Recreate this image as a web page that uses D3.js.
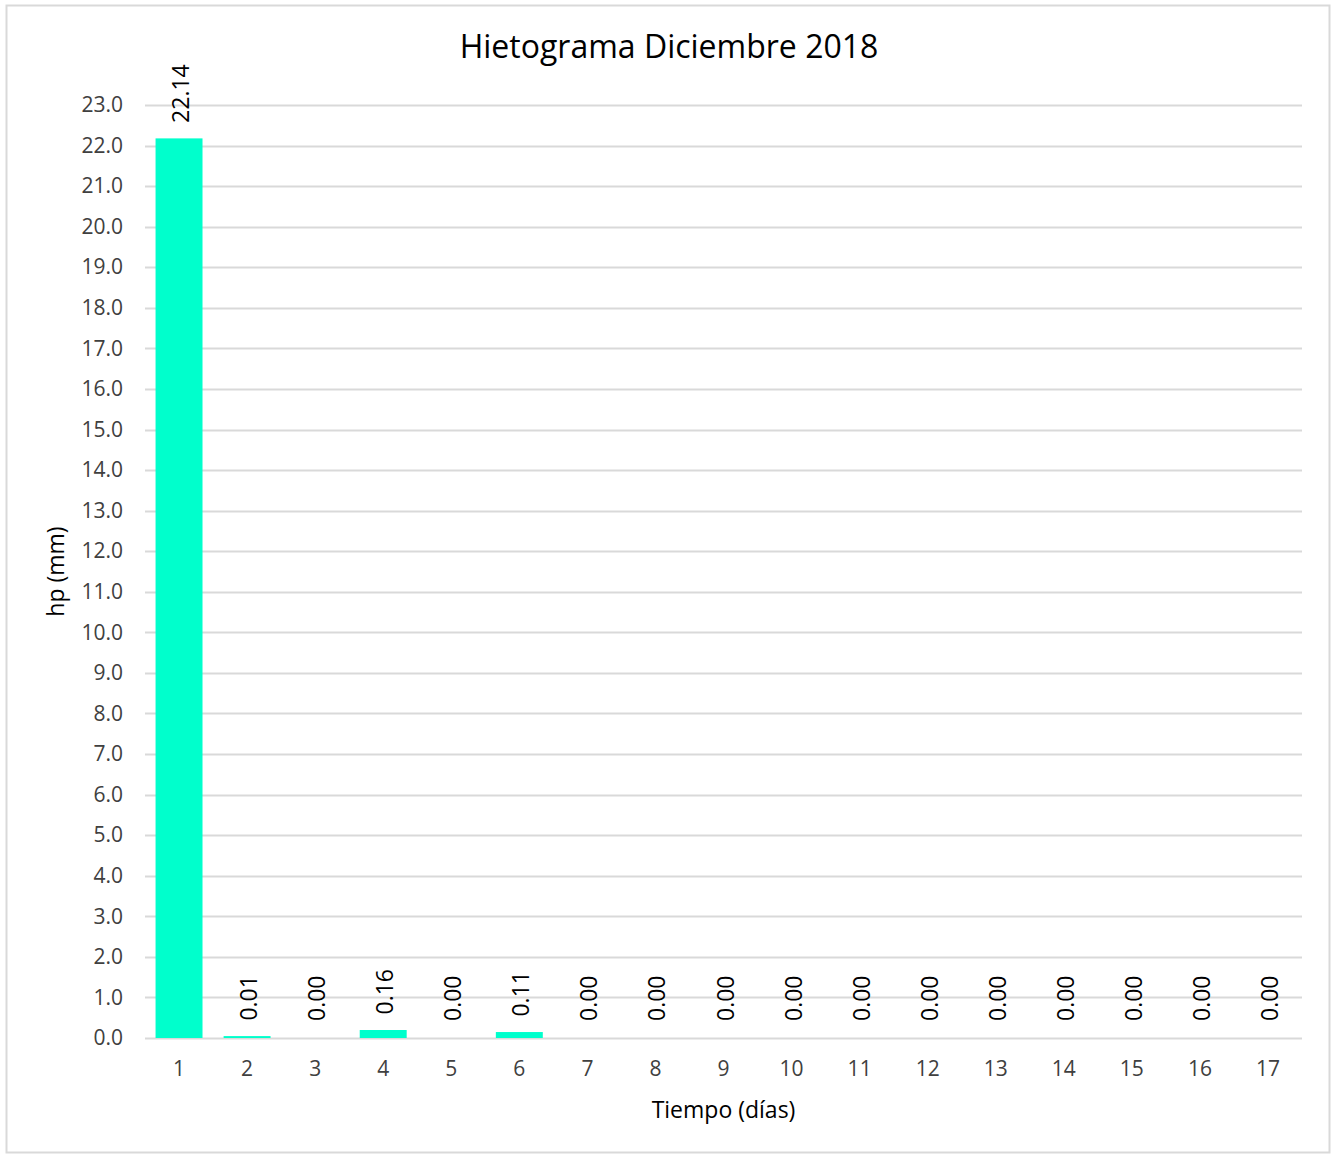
<!DOCTYPE html>
<html>
<head>
<meta charset="utf-8">
<script src="https://cdn.jsdelivr.net/npm/d3@7"></script>
<style>
  body { margin: 0; background: #fff; }
  svg { font-family: "Open Sans", "Noto Sans", sans-serif; }
</style>
</head>
<body>
<svg id="chart"></svg>
<script>
var dias = ["1", "2", "3", "4", "5", "6", "7", "8", "9", "10", "11", "12", "13", "14", "15", "16", "17"];
var hp = [22.14, 0.01, 0.00, 0.16, 0.00, 0.11, 0.00, 0.00, 0.00, 0.00, 0.00, 0.00, 0.00, 0.00, 0.00, 0.00, 0.00];
var yTicks = d3.range(0, 24, 1);

var width = 1332, height = 1156;
var margin = {top: 105, right: 30, bottom: 118, left: 145};

var svg = d3.select("#chart")
    .attr("width", width)
    .attr("height", height);

// chart border
svg.append("rect")
    .attr("x", 6.5)
    .attr("y", 5.5)
    .attr("width", 1323)
    .attr("height", 1147)
    .attr("fill", "#fff")
    .attr("stroke", "#d9d9d9")
    .attr("stroke-width", 2);

var x = d3.scaleBand()
    .domain(dias)
    .range([margin.left, width - margin.right])
    .paddingInner(0.31)
    .paddingOuter(0.155);

var y = d3.scaleLinear()
    .domain([0, 23])
    .range([height - margin.bottom, margin.top]);

// gridlines
svg.append("g")
    .selectAll("line")
    .data(yTicks)
    .enter()
    .append("line")
    .attr("x1", margin.left)
    .attr("x2", width - margin.right)
    .attr("y1", d => Math.round(y(d)) + 0.5)
    .attr("y2", d => Math.round(y(d)) + 0.5)
    .attr("stroke", "#d9d9d9")
    .attr("stroke-width", 2);

// y axis labels
var yAxis = d3.axisLeft(y)
    .tickValues(yTicks)
    .tickFormat(d3.format(".1f"))
    .tickSize(0)
    .tickPadding(22);

svg.append("g")
    .attr("transform", "translate(" + margin.left + ",0)")
    .call(yAxis)
    .call(g => g.select(".domain").remove())
    .selectAll("text")
    .attr("font-size", "21px")
    .attr("font-family", "Open Sans, sans-serif")
    .attr("fill", "#404040");

// x axis labels
var xAxis = d3.axisBottom(x)
    .tickSize(0)
    .tickPadding(23);

svg.append("g")
    .attr("transform", "translate(0," + (height - margin.bottom) + ")")
    .call(xAxis)
    .call(g => g.select(".domain").remove())
    .selectAll("text")
    .attr("font-size", "21px")
    .attr("font-family", "Open Sans, sans-serif")
    .attr("fill", "#404040");

// bars
svg.append("g")
    .selectAll("rect")
    .data(hp)
    .enter()
    .append("rect")
    .attr("x", (d, i) => x(dias[i]))
    .attr("width", x.bandwidth())
    .attr("y", d => y(d) - (d > 0 ? 1.5 : 0))
    .attr("height", d => d > 0 ? y(0) - y(d) + 1.5 : 0)
    .attr("fill", "#00ffcc");

// data labels
svg.append("g")
    .selectAll("text")
    .data(hp)
    .enter()
    .append("text")
    .attr("transform", (d, i) => "translate(" + (x(dias[i]) + x.bandwidth() / 2 + 10) + "," + (y(d) - 17) + ") rotate(-90)")
    .attr("font-size", "23px")
    .attr("fill", "#000")
    .text(d => d.toFixed(2));

// title
svg.append("text")
    .attr("x", 669)
    .attr("y", 58)
    .attr("text-anchor", "middle")
    .attr("font-size", "32px")
    .attr("fill", "#000")
    .text("Hietograma Diciembre 2018");

// axis titles
svg.append("text")
    .attr("transform", "translate(64," + ((margin.top + height - margin.bottom) / 2) + ") rotate(-90)")
    .attr("text-anchor", "middle")
    .attr("font-size", "23px")
    .attr("fill", "#000")
    .text("hp (mm)");

svg.append("text")
    .attr("x", (margin.left + width - margin.right) / 2)
    .attr("y", 1118)
    .attr("text-anchor", "middle")
    .attr("font-size", "23px")
    .attr("fill", "#000")
    .text("Tiempo (días)");
</script>
</body>
</html>
